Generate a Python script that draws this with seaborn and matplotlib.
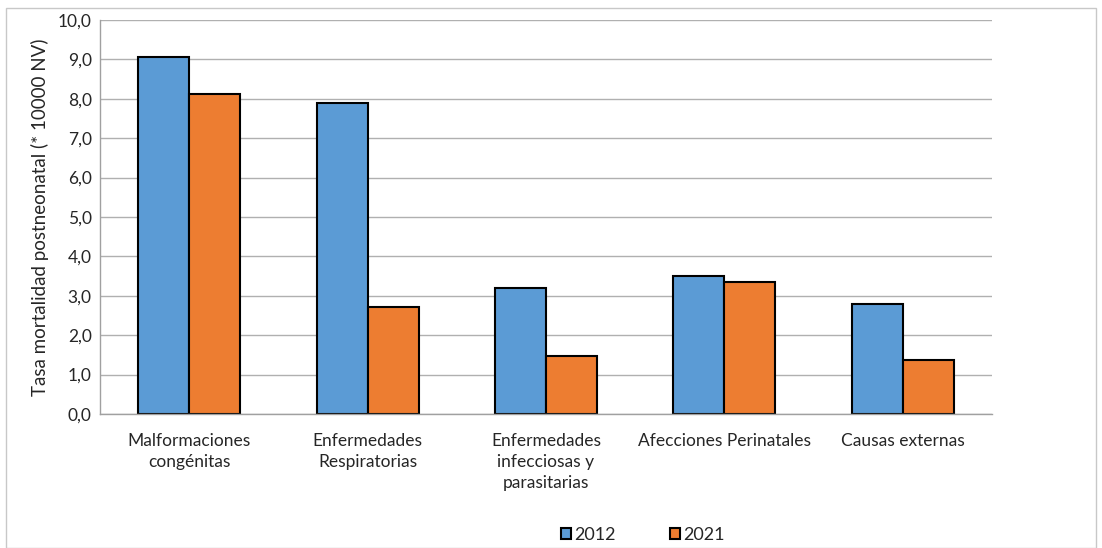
import matplotlib
matplotlib.use("Agg")
import matplotlib.pyplot as plt
import seaborn as sns
import pandas as pd
from matplotlib.patches import Rectangle

categories = ["Malformaciones\ncongénitas", "Enfermedades\nRespiratorias",
              "Enfermedades\ninfecciosas y\nparasitarias", "Afecciones Perinatales",
              "Causas externas"]
years = ["2012", "2021"]
values_2012 = [9.05, 7.89, 3.20, 3.49, 2.80]
values_2021 = [8.13, 2.72, 1.47, 3.35, 1.38]
yticks = [0, 1, 2, 3, 4, 5, 6, 7, 8, 9, 10]
ylabel = "Tasa mortalidad postneonatal (* 10000 NV)"
colors = ["#5B9BD5", "#ED7D31"]

df = pd.DataFrame({
    "Causa": categories * 2,
    "Año": [years[0]] * len(categories) + [years[1]] * len(categories),
    "Tasa": values_2012 + values_2021,
})

sns.set_theme(style="white")
plt.rcParams["font.family"] = ["Lato", "DejaVu Sans"]

fig = plt.figure(figsize=(11.02, 5.48), dpi=100)
ax = fig.add_axes([100 / 1102, 1 - 414 / 548, 892 / 1102, 394 / 548])

sns.barplot(data=df, x="Causa", y="Tasa", hue="Año", palette=colors,
            width=0.572, edgecolor="black", linewidth=1.5, ax=ax, legend=True,
            saturation=1)

ax.set_ylim(0, 10)
ax.set_yticks(yticks)
ax.set_yticklabels([f"{v:.1f}".replace(".", ",") for v in yticks], fontsize=12.5)
ax.set_xlim(-0.5, len(categories) - 0.5)
ax.set_xlabel("")
ax.set_ylabel(ylabel, fontsize=13.5, labelpad=6)
for lbl in ax.get_xticklabels():
    lbl.set_linespacing(1.35)
ax.tick_params(axis="x", labelsize=12.5, length=0, pad=14)
ax.tick_params(axis="y", length=0, pad=6)
ax.yaxis.grid(True, color="#B0B0B0", linewidth=1)
ax.set_axisbelow(True)
for s in ["top", "right"]:
    ax.spines[s].set_visible(False)
ax.spines["left"].set_color("#A0A0A0")
ax.spines["bottom"].set_color("#A0A0A0")
ax.spines["left"].set_linewidth(1)
ax.spines["bottom"].set_linewidth(1)

leg = ax.legend(loc="center", bbox_to_anchor=(643 / 1102, 1 - 535 / 548),
                bbox_transform=fig.transFigure, ncol=2, frameon=False,
                fontsize=13, handlelength=0.55, handleheight=0.55,
                columnspacing=3.0, handletextpad=0.2)
for h in leg.legend_handles:
    h.set_linewidth(1.5)

fig.patches.append(Rectangle((6 / 1102, 0), 1090 / 1102, 1 - 8 / 548, transform=fig.transFigure,
                             fill=False, edgecolor="#C8C8C8", linewidth=1))

fig.savefig("out.png", dpi=100)
